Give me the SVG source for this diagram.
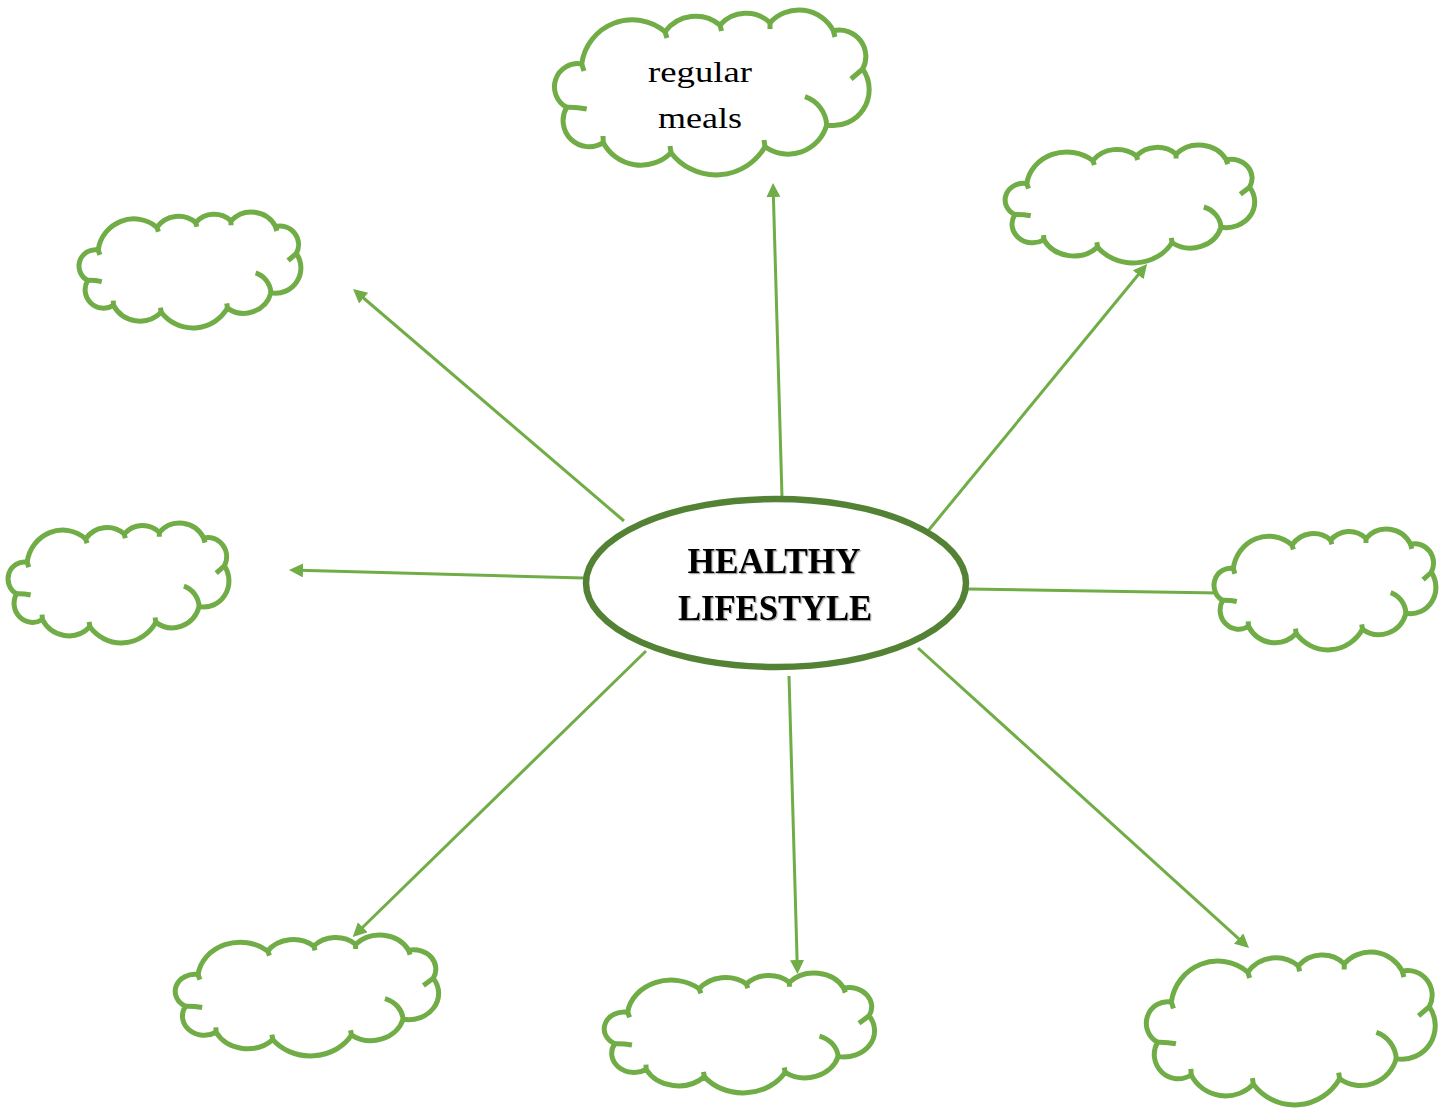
<svg xmlns="http://www.w3.org/2000/svg" xmlns:xlink="http://www.w3.org/1999/xlink" width="1451" height="1108" viewBox="0 0 1451 1108">
  <style>
    .cloud-body { fill: #ffffff; stroke: #70AD47; stroke-width: 5; vector-effect: non-scaling-stroke; }
    .cloud-tick { fill: none; stroke: #70AD47; stroke-width: 5; vector-effect: non-scaling-stroke; }
    .link { fill: none; stroke: #70AD47; stroke-width: 3; }
    .hub { fill: #ffffff; stroke: #548235; stroke-width: 6.5; }
    .hub-text { font-family: "Liberation Serif", "Times New Roman", serif; font-weight: bold; font-size: 35px; fill: #000000; text-anchor: middle; }
    .leaf-text { font-family: "Liberation Serif", "Times New Roman", serif; font-size: 30px; fill: #000000; text-anchor: middle; }
  </style>
  <defs>
    <marker id="arrow" markerUnits="userSpaceOnUse" markerWidth="16" markerHeight="16" refX="4" refY="7" orient="auto">
      <path d="M0,0 L14,7 L0,14 z" fill="#70AD47"/>
    </marker>
    <filter id="soft-shadow" x="-10%" y="-20%" width="120%" height="140%">
      <feDropShadow dx="1.2" dy="1.2" stdDeviation="0.6" flood-color="#000000" flood-opacity="0.35"/>
    </filter>
    <!-- cloud outline in a 319 x 165 frame, plus the short inner arcs at lobe joins -->
    <g id="cloud">
      <path class="cloud-body" d="M28.7,54 A51,51 0 0 1 112,21.7 A38,38 0 0 1 167,15 A35,35 0 0 1 217,12.7 A39,39 0 0 1 280.3,20.7 A26.5,26.5 0 0 1 309.7,59 A36,36 0 0 1 273.7,115 A40,40 0 0 1 212,136.7 A56.6,56.6 0 0 1 118,142.7 A42.6,42.6 0 0 1 50.3,132.7 A26.2,26.2 0 0 1 13.7,97.3 A23.2,23.2 0 0 1 28.7,54 Z"/>
      <path class="cloud-tick" d="M28.7,54 L31,61 M13.7,97.3 Q24,97 33.7,99 M50.3,132.7 L50,126 M118,142.7 L117,136 M212,136.7 L211,130 M273.7,115 A32,32 0 0 0 252,86.7 M309.7,59 L298,69 M280.3,20.7 L282,27 M217,12.7 L217,19 M167,15 L168.5,21 M112,21.7 L114,28"/>
    </g>
  </defs>

  <rect width="1451" height="1108" fill="#ffffff"/>

  <!-- connectors from the hub -->
  <g id="connectors">
    <line class="link" x1="782" y1="497" x2="773.3" y2="193" marker-end="url(#arrow)"/>
    <line class="link" x1="624" y1="521" x2="360.6" y2="295.5" marker-end="url(#arrow)"/>
    <line class="link" x1="584" y1="578" x2="299" y2="570.3" marker-end="url(#arrow)"/>
    <line class="link" x1="928" y1="531" x2="1140.7" y2="271.7" marker-end="url(#arrow)"/>
    <line class="link" x1="968" y1="589" x2="1218" y2="593"/>
    <line class="link" x1="646" y1="651" x2="359.9" y2="930" marker-end="url(#arrow)"/>
    <line class="link" x1="789" y1="676" x2="797.2" y2="964" marker-end="url(#arrow)"/>
    <line class="link" x1="918" y1="648" x2="1241.6" y2="941.3" marker-end="url(#arrow)"/>
  </g>

  <!-- clouds -->
  <g id="cloud-top">
    <use xlink:href="#cloud" href="#cloud" transform="translate(553,10)"/>
    <text class="leaf-text" x="700" y="82" textLength="104" lengthAdjust="spacingAndGlyphs">regular</text>
    <text class="leaf-text" x="700" y="128" textLength="84" lengthAdjust="spacingAndGlyphs">meals</text>
  </g>
  <g id="cloud-top-right">
    <use xlink:href="#cloud" href="#cloud" transform="translate(1004,145) scale(0.793,0.715)"/>
  </g>
  <g id="cloud-top-left">
    <use xlink:href="#cloud" href="#cloud" transform="translate(78,212) scale(0.705,0.703)"/>
  </g>
  <g id="cloud-left">
    <use xlink:href="#cloud" href="#cloud" transform="translate(7,523) scale(0.702,0.727)"/>
  </g>
  <g id="cloud-right">
    <use xlink:href="#cloud" href="#cloud" transform="translate(1213,529) scale(0.705,0.733)"/>
  </g>
  <g id="cloud-bottom-left">
    <use xlink:href="#cloud" href="#cloud" transform="translate(174,935) scale(0.837,0.733)"/>
  </g>
  <g id="cloud-bottom">
    <use xlink:href="#cloud" href="#cloud" transform="translate(603,973) scale(0.859,0.727)"/>
  </g>
  <g id="cloud-bottom-right">
    <use xlink:href="#cloud" href="#cloud" transform="translate(1145,952) scale(0.918,0.927)"/>
  </g>

  <!-- central hub -->
  <g id="hub">
    <ellipse class="hub" cx="776" cy="583" rx="190" ry="84"/>
    <g filter="url(#soft-shadow)">
      <text class="hub-text" x="774" y="573" textLength="173" lengthAdjust="spacingAndGlyphs">HEALTHY</text>
      <text class="hub-text" x="775" y="620" textLength="194" lengthAdjust="spacingAndGlyphs">LIFESTYLE</text>
    </g>
  </g>
</svg>
